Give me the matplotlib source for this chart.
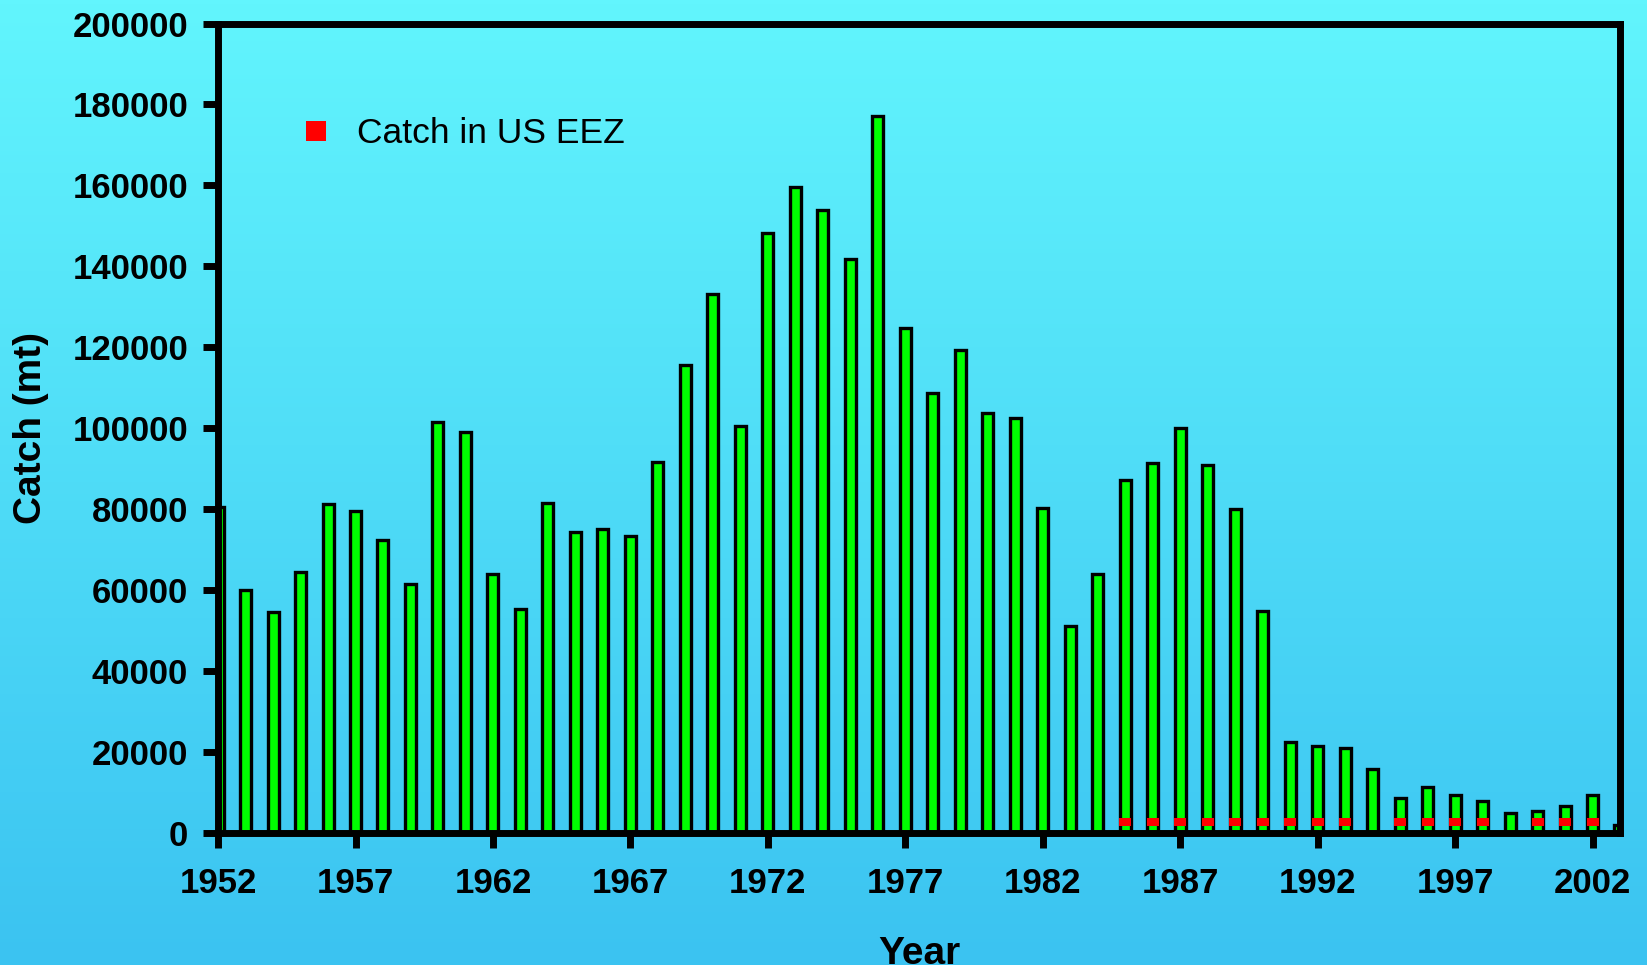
import numpy as np
import matplotlib.pyplot as plt
from matplotlib.colors import LinearSegmentedColormap
from matplotlib.lines import Line2D

plt.rcParams['font.family'] = ['Liberation Sans', 'DejaVu Sans']

# total catch per year (mt)
years = list(range(1952, 2004))
catch = [80500, 60000, 54500, 64300, 81200, 79600, 72400, 61500, 101400, 99100,
         63800, 55300, 81500, 74400, 75000, 73400, 91600, 115700, 133100, 100400,
         148100, 159500, 153800, 141900, 177200, 124800, 108700, 119300, 103800, 102500,
         80200, 51100, 63800, 87200, 91300, 99900, 90800, 79900, 54700, 22300,
         21300, 20800, 15600, 8600, 11200, 9300, 7800, 4900, 5400, 6500,
         9300, 1800]

# catch inside US EEZ
eez_years = [1985, 1986, 1987, 1988, 1989, 1990, 1991, 1992, 1993,
             1995, 1996, 1997, 1998, 2000, 2001, 2002]
eez_catch = [2500] * len(eez_years)

fig = plt.figure(figsize=(16.47, 9.65), dpi=100)

# slide-like gradient background
bg = fig.add_axes([0, 0, 1, 1], zorder=-10)
cmap = LinearSegmentedColormap.from_list('bg', ['#62F5FD', '#3BC3F1'])
bg.imshow(np.linspace(0, 1, 256).reshape(-1, 1), aspect='auto', cmap=cmap,
          extent=[0, 1, 0, 1])
bg.axis('off')

ax = fig.add_axes([0.1324, 0.1373, 0.8512, 0.8383])
ax.set_facecolor('none')

ax.bar(years, catch, width=0.4, color='#00FF00', edgecolor='black', linewidth=2.4, zorder=2)
rect = [(-1, -0.75), (1, -0.75), (1, 0.75), (-1, 0.75), (-1, -0.75)]
ax.plot(eez_years, eez_catch, linestyle='none', marker=rect, markersize=8.6,
        color='#FF0000', markeredgewidth=0, zorder=3)

ax.set_xlim(1952, 2003)
ax.set_ylim(0, 200000)
ax.set_xticks(range(1952, 2003, 5))
ax.set_yticks(range(0, 200001, 20000))

for s in ax.spines.values():
    s.set_linewidth(5)
    s.set_zorder(5)
ax.tick_params(axis='both', direction='out', length=10.8, width=5, labelsize=25)
ax.tick_params(axis='x', pad=14)
ax.tick_params(axis='y', pad=10.8)
for lab in ax.get_xticklabels() + ax.get_yticklabels():
    lab.set_fontweight('bold')

fig.text(31 / 1647, 1 - 428 / 965, 'Catch (mt)', rotation=90, ha='center', va='center',
         fontsize=28, fontweight='bold')
fig.text(919 / 1647, 1 - 936 / 965, 'Year', ha='center', va='top',
         fontsize=28, fontweight='bold')

handle = Line2D([], [], linestyle='none', marker='s', markersize=15,
                color='#FF0000', markeredgewidth=0)
ax.legend([handle], ['Catch in US EEZ'], loc='center left',
          bbox_to_anchor=(298.6 / 1647, 1 - 133.5 / 965), bbox_transform=fig.transFigure,
          frameon=False, fontsize=25.5, handlelength=1, handletextpad=0.65,
          borderaxespad=0, borderpad=0)

fig.savefig('out.png', dpi=100)
